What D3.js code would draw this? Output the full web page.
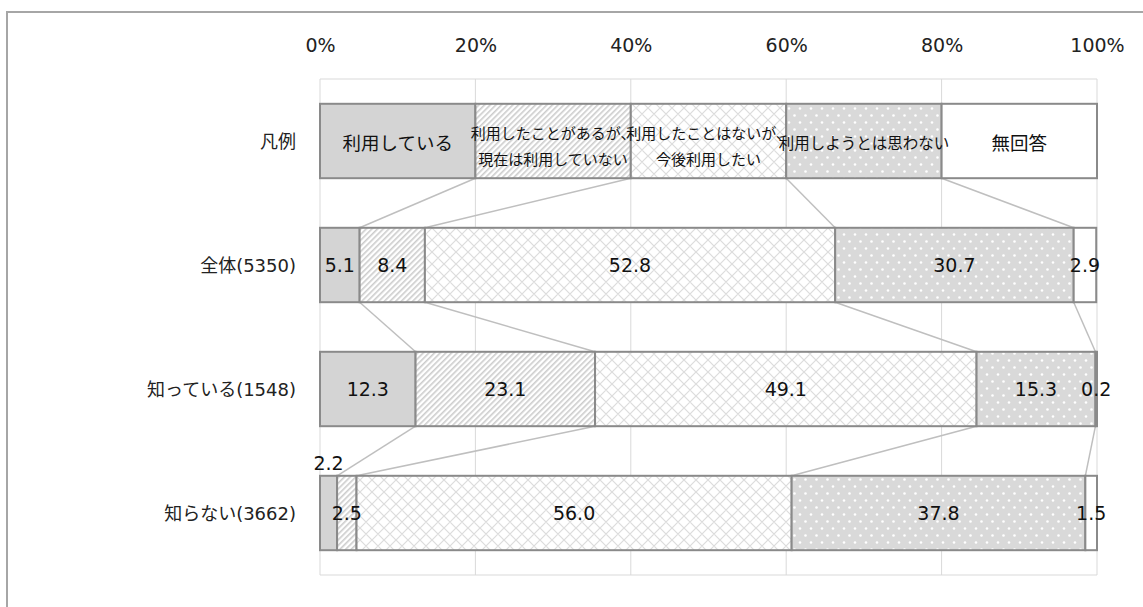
<!DOCTYPE html>
<html>
<head>
<meta charset="utf-8">
<title>利用意向</title>
<style>
	body { margin: 0; background: #fff; }
	svg { display: block; font-family: "DejaVu Sans", "Noto Sans CJK JP", sans-serif; }
</style>
</head>
<body>
<script src="https://cdn.jsdelivr.net/npm/d3@7"></script>
<script>
	// 行ラベル（凡例行 + 回答者グループ）
	const rows = ["凡例", "全体(5350)", "知っている(1548)", "知らない(3662)"]
	// 回答区分
	const answers = ["利用している", "利用したことがあるが、現在は利用していない", "利用したことはないが、今後利用したい", "利用しようとは思わない", "無回答"]
	// 凡例行で表示する文字（改行は \n）
	const legendLabels = ["利用している", "利用したことがあるが、\n現在は利用していない", "利用したことはないが、\n今後利用したい", "利用しようとは思わない", "無回答"]
	const legendShares = [20, 20, 20, 20, 20]
	// 各グループの割合(%)
	const allShares = [5.1, 8.4, 52.8, 30.7, 2.9]
	const knowShares = [12.3, 23.1, 49.1, 15.3, 0.2]
	const dontKnowShares = [2.2, 2.5, 56.0, 37.8, 1.5]
	const tickValues = [0, 20, 40, 60, 80, 100]

	const W = 1143, H = 607
	const plotL = 320, plotR = 1097, plotT = 79, plotB = 575

	const svg = d3.select("body").append("svg").attr("width", W).attr("height", H)

	// 模様
	const defs = svg.append("defs")
	const stripe = defs.append("pattern").attr("id", "stripe")
		.attr("patternUnits", "userSpaceOnUse").attr("width", 4).attr("height", 4)
		.attr("patternTransform", "rotate(45)")
	stripe.append("rect").attr("width", 4).attr("height", 4).attr("fill", "#fff")
	stripe.append("rect").attr("width", 1.6).attr("height", 4).attr("fill", "#cccccc")

	const cross = defs.append("pattern").attr("id", "cross")
		.attr("patternUnits", "userSpaceOnUse").attr("width", 12).attr("height", 12)
	cross.append("rect").attr("width", 12).attr("height", 12).attr("fill", "#fff")
	cross.append("path").attr("d", "M0,0L12,12M12,0L0,12M-6,6L6,18M6,-6L18,6M-6,6L6,-6M6,18L18,6")
		.attr("stroke", "#dcdcdc").attr("stroke-width", 1.2)

	const dots = defs.append("pattern").attr("id", "dots")
		.attr("patternUnits", "userSpaceOnUse").attr("width", 11).attr("height", 14)
	dots.append("rect").attr("width", 11).attr("height", 14).attr("fill", "#d9d9d9")
	dots.append("circle").attr("cx", 2.5).attr("cy", 3.5).attr("r", 1.3).attr("fill", "#fff")
	dots.append("circle").attr("cx", 8).attr("cy", 10.5).attr("r", 1.3).attr("fill", "#fff")

	const fills = ["#d4d4d4", "url(#stripe)", "url(#cross)", "url(#dots)", "#fff"]

	// 外枠
	svg.append("rect").attr("x", 7).attr("y", 12).attr("width", W + 20).attr("height", H + 20)
		.attr("fill", "none").attr("stroke", "#a6a6a6").attr("stroke-width", 2)

	const x = d3.scaleLinear().domain([0, 100]).range([plotL, plotR])
	const y = d3.scaleBand().domain(rows).range([plotT, plotB])
		.paddingInner(0.4).paddingOuter(0.2)

	// 目盛線
	svg.append("g").selectAll("line").data(tickValues).join("line")
		.attr("x1", d => x(d)).attr("x2", d => x(d))
		.attr("y1", plotT).attr("y2", plotB)
		.attr("stroke", "#d9d9d9").attr("stroke-width", 1)
	svg.append("line").attr("x1", plotL).attr("x2", plotR).attr("y1", plotT).attr("y2", plotT)
		.attr("stroke", "#d9d9d9")
	svg.append("line").attr("x1", plotL).attr("x2", plotR).attr("y1", plotB).attr("y2", plotB)
		.attr("stroke", "#d9d9d9")

	// 上の軸
	const axTop = svg.append("g").attr("transform", `translate(0, ${plotT - 27})`)
		.call(d3.axisTop(x).tickValues(tickValues).tickSize(0).tickPadding(0).tickFormat(d => d + "%"))
	axTop.select(".domain").remove()
	axTop.selectAll("text").attr("font-size", 19).attr("fill", "#222")
		.attr("font-family", "DejaVu Sans, sans-serif")

	// 行ラベル
	svg.append("g").selectAll("text").data(rows).join("text")
		.attr("x", 296).attr("y", d => y(d) + y.bandwidth() / 2)
		.attr("text-anchor", "end").attr("dominant-baseline", "central")
		.attr("font-size", 18).attr("fill", "#222")
		.text(d => d)

	const groups = [legendShares, allShares, knowShares, dontKnowShares]
	const stacks = groups.map(vals => {
		let acc = 0
		return vals.map((v, i) => { const s = { i, v, x0: acc, x1: acc + v }; acc += v; return s })
	})

	// 区切りをつなぐ線
	const connectors = []
	for (let r = 0; r < rows.length - 1; r++) {
		for (let k = 0; k < answers.length - 1; k++) {
			connectors.push({ a: stacks[r][k].x1, b: stacks[r + 1][k].x1, r })
		}
	}
	svg.append("g").selectAll("line").data(connectors).join("line")
		.attr("x1", d => x(d.a)).attr("y1", d => y(rows[d.r]) + y.bandwidth())
		.attr("x2", d => x(d.b)).attr("y2", d => y(rows[d.r + 1]))
		.attr("stroke", "#bfbfbf").attr("stroke-width", 1.5)

	// 帯
	stacks.forEach((segs, r) => {
		const g = svg.append("g")
		g.selectAll("rect").data(segs).join("rect")
			.attr("x", d => x(d.x0)).attr("width", d => x(d.x1) - x(d.x0))
			.attr("y", y(rows[r])).attr("height", y.bandwidth())
			.attr("fill", d => fills[d.i])
			.attr("stroke", "#8a8a8a").attr("stroke-width", 2)
	})

	// 凡例行の文字
	const lg = svg.append("g")
	stacks[0].forEach(d => {
		const lines = legendLabels[d.i].split("\n")
		const cx = x((d.x0 + d.x1) / 2), cy = y(rows[0]) + y.bandwidth() / 2
		const t = lg.append("text").attr("text-anchor", "middle").attr("fill", "#111")
			.attr("font-family", "Noto Sans CJK JP, sans-serif")
		if (lines.length === 1) {
			t.attr("x", cx).attr("y", cy + 1).attr("dominant-baseline", "central")
				.attr("font-size", d.i === 3 ? 15.5 : 18.5).text(lines[0])
		} else {
			lines.forEach((s, j) => {
				t.append("tspan").attr("x", cx).attr("y", cy - 9 + j * 26)
					.attr("dominant-baseline", "central").attr("font-size", 15).text(s)
			})
		}
	})

	// 数値ラベル（隣り合う区分が共に狭い場合、先の方を帯の上に出す）
	const minW = 30
	stacks.slice(1).forEach((segs, k) => {
		const r = k + 1
		const g = svg.append("g")
		segs.forEach((d, j) => {
			const w = x(d.x1) - x(d.x0)
			const next = segs[j + 1]
			const lift = next && w < minW && (x(next.x1) - x(next.x0)) < minW
			g.append("text")
				.attr("x", x((d.x0 + d.x1) / 2))
				.attr("y", lift ? y(rows[r]) - 13 : y(rows[r]) + y.bandwidth() / 2)
				.attr("text-anchor", "middle").attr("dominant-baseline", "central")
				.attr("font-size", 19).attr("fill", "#111")
				.text(d.v.toFixed(1))
		})
	})
</script>
</body>
</html>
